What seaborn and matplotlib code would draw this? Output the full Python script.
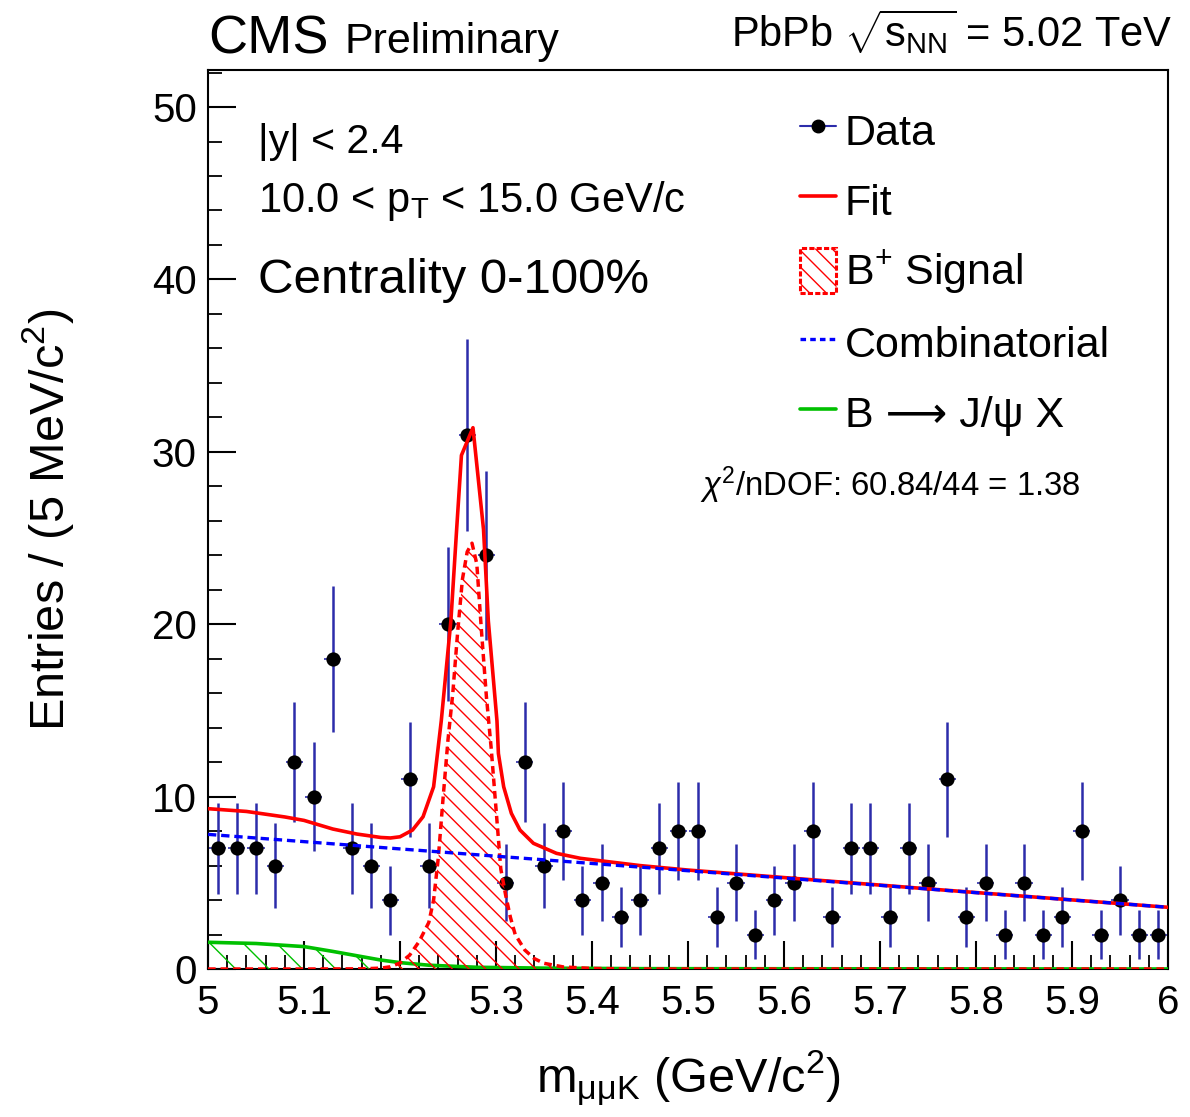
import numpy as np
import pandas as pd
import matplotlib
matplotlib.use("Agg")
import matplotlib.pyplot as plt
import seaborn as sns
from matplotlib.lines import Line2D
from matplotlib.patches import Patch
from matplotlib.ticker import MultipleLocator

# ---------------- data ----------------
mass_centers = [5.01, 5.03, 5.05, 5.07, 5.09, 5.11, 5.13, 5.15, 5.17, 5.19,
                5.21, 5.23, 5.25, 5.27, 5.29, 5.31, 5.33, 5.35, 5.37, 5.39,
                5.41, 5.43, 5.45, 5.47, 5.49, 5.51, 5.53, 5.55, 5.57, 5.59,
                5.61, 5.63, 5.65, 5.67, 5.69, 5.71, 5.73, 5.75, 5.77, 5.79,
                5.81, 5.83, 5.85, 5.87, 5.89, 5.91, 5.93, 5.95, 5.97, 5.99]
counts = [7, 7, 7, 6, 12, 10, 18, 7, 6, 4,
          11, 6, 20, 31, 24, 5, 12, 6, 8, 4,
          5, 3, 4, 7, 8, 8, 3, 5, 2, 4,
          5, 8, 3, 7, 7, 3, 7, 5, 11, 3,
          5, 2, 5, 2, 3, 8, 2, 4, 2, 2]

# total fit (solid red)
fit_x = [5.00, 5.04, 5.08, 5.10, 5.13, 5.155, 5.18, 5.19, 5.20, 5.213, 5.224,
         5.235, 5.243, 5.253, 5.259, 5.264, 5.276, 5.287, 5.292, 5.301, 5.3025,
         5.308, 5.316, 5.325, 5.339, 5.363, 5.388, 5.45, 5.50, 5.75, 6.00]
fit_y = [9.30, 9.14, 8.82, 8.62, 8.12, 7.83, 7.63, 7.60, 7.67, 8.06, 8.83,
         10.57, 14.4, 20.2, 25.5, 29.8, 31.4, 25.5, 20.2, 14.4, 12.5,
         10.57, 9.03, 8.06, 7.29, 6.71, 6.42, 6.00, 5.74, 4.65, 3.58]

# B+ signal (dashed red, hatched)
sig_x = [5.00, 5.10, 5.16, 5.18, 5.19, 5.20, 5.21, 5.22, 5.23, 5.235, 5.24,
         5.245, 5.25, 5.255, 5.26, 5.265, 5.27, 5.275, 5.28, 5.285, 5.29,
         5.295, 5.30, 5.305, 5.31, 5.315, 5.32, 5.33, 5.34, 5.35, 5.37,
         5.40, 5.45, 6.00]
sig_y = [0.0, 0.0, 0.01, 0.05, 0.13, 0.35, 0.8, 1.6, 2.7, 4.0, 6.5,
         10.0, 13.3, 16.0, 19.5, 22.6, 24.2, 24.7, 23.5, 19.5, 15.8,
         12.8, 9.3, 5.8, 4.3, 3.0, 2.0, 1.1, 0.6, 0.33, 0.12,
         0.03, 0.0, 0.0]

# combinatorial background (dashed blue)
comb_x = [5.00, 5.50, 6.00]
comb_y = [7.81, 5.70, 3.58]

# B -> J/psi X (green)
jpsix_x = [5.00, 5.05, 5.10, 5.13, 5.155, 5.18, 5.20, 5.23, 5.28, 5.35, 5.45, 6.00]
jpsix_y = [1.55, 1.48, 1.30, 1.02, 0.77, 0.52, 0.37, 0.22, 0.10, 0.05, 0.02, 0.0]

x_tick_vals = [5.0, 5.1, 5.2, 5.3, 5.4, 5.5, 5.6, 5.7, 5.8, 5.9, 6.0]
x_tick_labels = ["5", "5.1", "5.2", "5.3", "5.4", "5.5", "5.6", "5.7", "5.8", "5.9", "6"]
y_tick_vals = [0, 10, 20, 30, 40, 50]

# ---------------- style ----------------
sns.set_theme(style="ticks")
plt.rcParams['font.family'] = ['Liberation Sans', 'DejaVu Sans']
plt.rcParams['mathtext.fontset'] = 'custom'
plt.rcParams['mathtext.rm'] = 'Liberation Sans'
plt.rcParams['mathtext.it'] = 'Liberation Sans:italic'
plt.rcParams['mathtext.bf'] = 'Liberation Sans:bold'
plt.rcParams['mathtext.sf'] = 'Liberation Sans'
plt.rcParams['hatch.linewidth'] = 1.0
plt.rcParams['lines.scale_dashes'] = False
plt.rcParams['axes.linewidth'] = 1.5
for k in ['text.color', 'axes.labelcolor', 'xtick.color', 'ytick.color',
          'axes.edgecolor', 'xtick.labelcolor', 'ytick.labelcolor']:
    plt.rcParams[k] = 'black'

BLUE_ERR = '#2c2caa'
RED = '#ff0000'
BLUE = '#0000ff'
GREEN = '#00c000'

fig = plt.figure(figsize=(11.9, 11.17), dpi=100)
ax = fig.add_axes([208/1190, 148/1117, 960/1190, 899/1117])

df = pd.DataFrame({"m": mass_centers, "n": counts})
err = np.sqrt(df["n"].values)

# data: error bars and markers
ax.errorbar(df["m"], df["n"], yerr=err, fmt='none', ecolor=BLUE_ERR,
            elinewidth=1.8, capsize=0, zorder=2)
ax.errorbar(df["m"], df["n"], xerr=0.009, fmt='none', ecolor=BLUE_ERR,
            elinewidth=1.2, capsize=0, zorder=2)
sns.scatterplot(data=df, x="m", y="n", ax=ax, color='black', s=105,
                edgecolor='black', linewidth=0, zorder=3, legend=False)

# B -> J/psi X
ax.fill_between(jpsix_x, 0, jpsix_y, facecolor='none', edgecolor=GREEN,
                hatch='\\', linewidth=0, zorder=3)
sns.lineplot(x=jpsix_x, y=jpsix_y, ax=ax, color=GREEN, lw=2.6,
             estimator=None, zorder=4)

# total fit
sns.lineplot(x=fit_x, y=fit_y, ax=ax, color=RED, lw=2.6,
             estimator=None, zorder=5)

# signal
ax.fill_between(sig_x, 0, sig_y, facecolor='none', edgecolor=RED,
                hatch='\\\\', linewidth=0, zorder=5)
sns.lineplot(x=sig_x, y=sig_y, ax=ax, color=RED, lw=2.5,
             estimator=None, zorder=6)
ax.lines[-1].set_dashes([5.5, 3.5])

# combinatorial
sns.lineplot(x=comb_x, y=comb_y, ax=ax, color=BLUE, lw=2.4,
             estimator=None, zorder=7)
ax.lines[-1].set_dashes([6, 3.5])

# ---------------- axes ----------------
ax.set_xlim(5.0, 6.0)
ax.set_ylim(0, 52.15)
ax.set_xticks(x_tick_vals)
ax.set_xticklabels(x_tick_labels)
ax.set_yticks(y_tick_vals)
ax.xaxis.set_minor_locator(MultipleLocator(0.02))
ax.yaxis.set_minor_locator(MultipleLocator(2))
ax.tick_params(which='major', direction='in', length=20, width=1.5,
               top=False, right=False, labelsize=29, color='black',
               labelcolor='black')
ax.tick_params(which='minor', direction='in', length=10, width=1.3,
               top=False, right=False, color='black')
ax.tick_params(axis='x', which='major', pad=11)
ax.tick_params(axis='y', which='major', pad=8)
for s in ax.spines.values():
    s.set_color('black')
    s.set_linewidth(1.5)

ax.set_xlabel(r"m$_{\mathrm{\mu\mu K}}$ (GeV/c$^{2}$)", fontsize=35, color='black')
ax.xaxis.set_label_coords(0.5, -0.088)
ax.xaxis.label.set_va('top')
ax.set_ylabel(r"Entries / (5 MeV/c$^{2}$)", fontsize=35, color='black')
ax.yaxis.set_label_coords(-0.137, 0.5)

# ---------------- texts ----------------
fig.text(208/1190, 1 - 53/1117, "CMS", fontsize=39, ha='left', va='baseline', color='black')
fig.text(344/1190, 1 - 53/1117, "Preliminary", fontsize=31, ha='left', va='baseline',
         color='black')
fig.text(1172/1190, 1 - 47/1117, r"PbPb $\sqrt{\mathrm{s}_{\mathrm{NN}}}$ = 5.02 TeV",
         fontsize=30, ha='right', va='baseline', color='black')

ax.text(0.052, 0.9077, "|y| < 2.4", fontsize=29.5, transform=ax.transAxes,
        va='baseline', color='black')
ax.text(0.052, 0.842, r"10.0 < p$_{\mathrm{T}}$ < 15.0 GeV/c", fontsize=30,
        transform=ax.transAxes, va='baseline', color='black')
ax.text(0.052, 0.752, "Centrality 0-100%", fontsize=35.5, transform=ax.transAxes,
        va='baseline', color='black')
ax.text(0.5125, 0.526, r"$\chi^{2}$/nDOF: 60.84/44 = 1.38", fontsize=23.7,
        transform=ax.transAxes, va='baseline', color='black')

# ---------------- legend ----------------
handles = [
    Line2D([], [], color=BLUE_ERR, lw=1.5, marker='o', markersize=9,
           markerfacecolor='black', markeredgecolor='black'),
    Line2D([], [], color=RED, lw=2.6),
    Patch(facecolor='none', edgecolor=RED, hatch='\\\\', linestyle='--', linewidth=2.2),
    Line2D([], [], color=BLUE, lw=2.4, dashes=[4, 3]),
    Line2D([], [], color=GREEN, lw=2.6),
]
labels = ["Data", "Fit", r"B$^{+}$ Signal", "Combinatorial", "B ⟶ J/ψ X"]
leg = ax.legend(handles, labels, loc='upper left', bbox_to_anchor=(0.6167, 0.958),
                frameon=False, fontsize=31, handlelength=0.84, handleheight=1.25,
                handletextpad=0.2, labelspacing=0.55, borderpad=0, borderaxespad=0)
for t in leg.get_texts():
    t.set_color('black')

fig.savefig("out.png", dpi=100)
